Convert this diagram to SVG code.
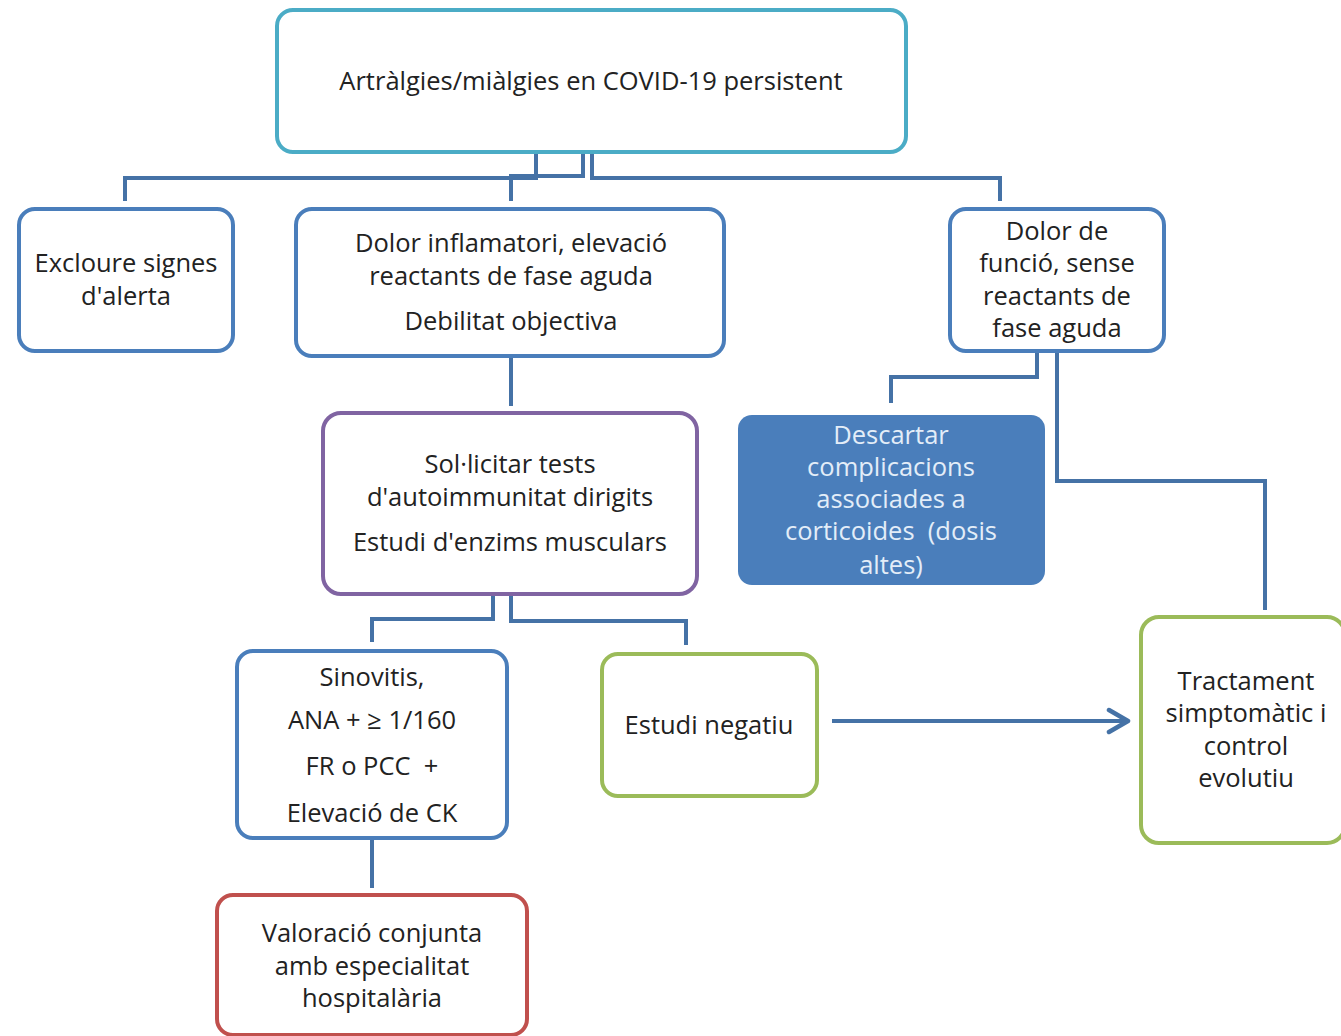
<svg xmlns="http://www.w3.org/2000/svg" width="1341" height="1036" viewBox="0 0 1341 1036">
<defs>
<style>
.box{fill:#ffffff;stroke-width:4}
.t{font-family:"Open Sans","Noto Sans",sans-serif;font-size:25.5px;fill:#222222;text-anchor:middle;white-space:pre}
.w{fill:#e3edf8}
.c{fill:none;stroke:#4572a6;stroke-width:4}
</style>
<marker id="arr" markerWidth="26" markerHeight="28" refX="22" refY="13" orient="auto" markerUnits="userSpaceOnUse" viewBox="0 0 26 26">
<path d="M3,2 L22,13 L3,24" fill="none" stroke="#4572a6" stroke-width="4.5" stroke-linecap="round" stroke-linejoin="round"/>
</marker>
</defs>
<rect width="1341" height="1036" fill="#ffffff"/>
<g id="connectors">
<path class="c" d="M536,152 V178 H125 V201"/>
<path class="c" d="M583,152 V176 H511 V201"/>
<path class="c" d="M592,152 V178 H1000 V201"/>
<path class="c" d="M511,356 V406"/>
<path class="c" d="M1037,351 V377 H891 V403"/>
<path class="c" d="M1057,351 V481 H1265 V610"/>
<path class="c" d="M493,594 V619 H372 V642"/>
<path class="c" d="M511,594 V621 H686 V645"/>
<path class="c" d="M372,838 V888"/>
<path class="c" d="M832,721 H1128" marker-end="url(#arr)"/>
</g>
<g id="n-top">
<rect class="box" x="277" y="10" width="629" height="142" rx="16" stroke="#4bacc6"/>
<text class="t" x="591" y="90">Artràlgies/miàlgies en COVID-19 persistent</text>
</g>
<g id="n-excloure">
<rect class="box" x="19" y="209" width="214" height="142" rx="16" stroke="#4a7ebb"/>
<text class="t" x="126" y="272">Excloure signes</text>
<text class="t" x="126" y="305">d'alerta</text>
</g>
<g id="n-inflamatori">
<rect class="box" x="296" y="209" width="428" height="147" rx="16" stroke="#4a7ebb"/>
<text class="t" x="511" y="252">Dolor inflamatori, elevació</text>
<text class="t" x="511" y="285">reactants de fase aguda</text>
<text class="t" x="511" y="330">Debilitat objectiva</text>
</g>
<g id="n-funcio">
<rect class="box" x="950" y="209" width="214" height="142" rx="16" stroke="#4a7ebb"/>
<text class="t" x="1057" y="240">Dolor de</text>
<text class="t" x="1057" y="272">funció, sense</text>
<text class="t" x="1057" y="305">reactants de</text>
<text class="t" x="1057" y="337">fase aguda</text>
</g>
<g id="n-sollicitar">
<rect class="box" x="323" y="413" width="374" height="181" rx="18" stroke="#8064a2"/>
<text class="t" x="510" y="473">Sol·licitar tests</text>
<text class="t" x="510" y="506">d'autoimmunitat dirigits</text>
<text class="t" x="510" y="551">Estudi d'enzims musculars</text>
</g>
<g id="n-descartar">
<rect x="738" y="415" width="307" height="170" rx="14" fill="#4a7ebb"/>
<text class="t w" x="891" y="444">Descartar</text>
<text class="t w" x="891" y="476">complicacions</text>
<text class="t w" x="891" y="508">associades a</text>
<text class="t w" x="891" y="540">corticoides  (dosis</text>
<text class="t w" x="891" y="574">altes)</text>
</g>
<g id="n-sinovitis">
<rect class="box" x="237" y="651" width="270" height="187" rx="16" stroke="#4a7ebb"/>
<text class="t" x="372" y="686">Sinovitis,</text>
<text class="t" x="372" y="729">ANA + ≥ 1/160</text>
<text class="t" x="372" y="775">FR o PCC  +</text>
<text class="t" x="372" y="822">Elevació de CK</text>
</g>
<g id="n-negatiu">
<rect class="box" x="602" y="654" width="215" height="142" rx="16" stroke="#9bbb59"/>
<text class="t" x="709" y="734">Estudi negatiu</text>
</g>
<g id="n-tractament">
<rect class="box" x="1141" y="617" width="204" height="226" rx="18" stroke="#9bbb59"/>
<text class="t" x="1246" y="690">Tractament</text>
<text class="t" x="1246" y="722">simptomàtic i</text>
<text class="t" x="1246" y="755">control</text>
<text class="t" x="1246" y="787">evolutiu</text>
</g>
<g id="n-valoracio">
<rect class="box" x="217" y="895" width="310" height="140" rx="16" stroke="#c0504d"/>
<text class="t" x="372" y="942">Valoració conjunta</text>
<text class="t" x="372" y="975">amb especialitat</text>
<text class="t" x="372" y="1007">hospitalària</text>
</g>
</svg>
